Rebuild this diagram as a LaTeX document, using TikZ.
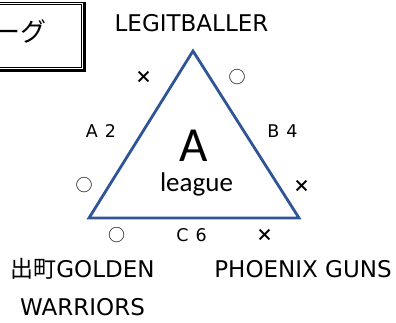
\documentclass[tikz,border=0pt]{standalone}
\usepackage{fontspec}
\setmainfont{DejaVu Sans}
\newfontfamily\jpfont{Noto Sans CJK JP}
\newfontfamily\calfont{Carlito}
\definecolor{triblue}{RGB}{47,85,151}
\begin{document}
\begin{tikzpicture}[x=1pt,y=-1pt,
  lbl/.style={inner sep=0pt,font=\fontsize{23}{25}\selectfont},
  score/.style={inner sep=0pt,font=\fontsize{17.5}{19}\selectfont},
  mk/.style={inner sep=0pt,font=\jpfont\fontsize{17}{18}\selectfont},
  mkb/.style={inner sep=0pt,font=\jpfont\bfseries\fontsize{17}{18}\selectfont}]
\useasboundingbox (0,0) rectangle (396,322);
% title box (shadowed double frame)
\draw[line width=0.6pt] (-10,4.3) rectangle (81,67);
\draw[line width=1pt] (-10,2.5) rectangle (83.5,69.5);
\draw[line width=2.6pt] (84.2,2) -- (84.2,70.2) -- (-10,70.2);
\node[inner sep=0pt,anchor=east,font=\jpfont\fontsize{26}{28}\selectfont] (title) at (47,31) {ーグ};
% triangle
\coordinate (top) at (193,51);
\coordinate (bl) at (89,218);
\coordinate (br) at (299,218);
\draw[triblue,line width=2.8pt,line join=miter] (top) -- (br) -- (bl) -- cycle;
% team names
\node[lbl] (leg) at (191.5,23.5) {LEGITBALLER};
\node[lbl] (gw1) at (82.5,269) {{\jpfont 出町}GOLDEN};
\node[lbl] (gw2) at (82.5,307.5) {WARRIORS};
\node[lbl] (phx) at (303,269) {PHOENIX GUNS};
% scores
\node[score] (a2) at (101,131) {A\hspace{0.4em}2};
\node[score] (b4) at (282.5,131.5) {B\hspace{0.4em}4};
\node[score] (c6) at (191.5,235) {C\hspace{0.4em}6};
% centre
\node[inner sep=0pt,text depth=0pt,font=\calfont\fontsize{49}{50}\selectfont] (bigA) at (193.5,146) {A};
\node[inner sep=0pt,font=\calfont\fontsize{27}{28}\selectfont] (lg) at (196.5,184) {league};
% marks
\node[mkb] (m1) at (143.7,77.5) {×};
\node[mk] (m2) at (237,77.5) {○};
\node[mk] (m3) at (84,185) {○};
\node[mkb] (m4) at (301.7,186) {×};
\node[mk] (m5) at (116.7,235) {○};
\node[mkb] (m6) at (264.5,235) {×};
\end{tikzpicture}
\end{document}
